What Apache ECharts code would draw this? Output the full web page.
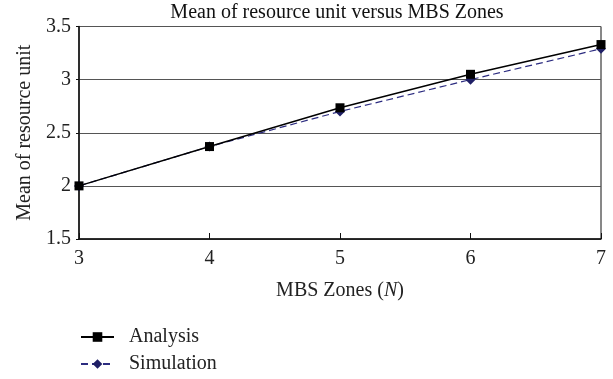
<!DOCTYPE html>
<html><head><meta charset="utf-8">
<script src="https://cdn.jsdelivr.net/npm/echarts@6/dist/echarts.min.js"></script>
<style>html,body{margin:0;padding:0;background:#fff}#c{width:613px;height:379px}</style>
</head><body><div id="c"></div>
<script>
var zones = [3, 4, 5, 6, 7];
var analysis = [2.0, 2.37, 2.735, 3.05, 3.33];
var simulation = [2.0, 2.37, 2.7, 3.0, 3.29];
var titleText = 'Mean of resource unit versus MBS Zones';
var font = 'Liberation Serif';
var fs = 20;

function pairs(xs, ys) { return xs.map(function (x, i) { return [x, ys[i]]; }); }

var chart = echarts.init(document.getElementById('c'));
chart.setOption({
  animation: false,
  backgroundColor: '#fff',
  textStyle: { fontFamily: font },
  title: {
    text: titleText, left: 337, top: 3, textAlign: 'center', padding: 0,
    textStyle: { fontFamily: font, fontSize: fs, fontWeight: 'normal', color: '#111' }
  },
  grid: { left: 79, right: 12, top: 26.5, bottom: 140, show: true, borderColor: '#111', borderWidth: 1 },
  legend: {
    orient: 'vertical', left: 80, top: 327, padding: 0, itemWidth: 33, itemHeight: 12, itemGap: 7,
    textStyle: { fontFamily: font, fontSize: fs, color: '#222', padding: [0, 0, 0, 10] },
    data: ['Analysis', 'Simulation']
  },
  xAxis: {
    type: 'value', min: 3, max: 7, interval: 1,
    name: 'MBS Zones ({i|N})', nameLocation: 'middle', nameGap: 42,
    nameTextStyle: { fontFamily: font, fontSize: fs, color: '#222', rich: { i: { fontFamily: font, fontSize: fs, fontStyle: 'italic', color: '#222' } } },
    axisLine: { lineStyle: { color: '#111', width: 1.5 } },
    axisTick: { inside: true, length: 6, lineStyle: { color: '#111' } },
    axisLabel: { fontFamily: font, fontSize: fs, color: '#222', margin: 10 },
    splitLine: { show: false }
  },
  yAxis: {
    type: 'value', min: 1.5, max: 3.5, interval: 0.5,
    name: 'Mean of resource unit', nameLocation: 'middle', nameGap: 44,
    nameTextStyle: { fontFamily: font, fontSize: fs, color: '#222' },
    axisLine: { show: true, lineStyle: { color: '#111', width: 1.5 } },
    axisTick: { show: true, length: 3, lineStyle: { color: '#111' } },
    axisLabel: { fontFamily: font, fontSize: fs, color: '#222', margin: 8 },
    splitLine: { show: true, lineStyle: { color: '#555', width: 1 } }
  },
  series: [
    {
      name: 'Analysis', type: 'line', data: pairs(zones, analysis),
      symbol: 'rect', symbolSize: 9, color: '#000',
      lineStyle: { color: '#000', width: 1.5 }, itemStyle: { color: '#000' }, z: 3
    },
    {
      name: 'Simulation', type: 'line', data: pairs(zones, simulation),
      symbol: 'diamond', symbolSize: 10, color: '#27276e',
      lineStyle: { color: '#2c2c80', width: 1.2, type: [7, 4] }, itemStyle: { color: '#1f1f66' }, z: 2
    }
  ]
});
</script></body></html>
